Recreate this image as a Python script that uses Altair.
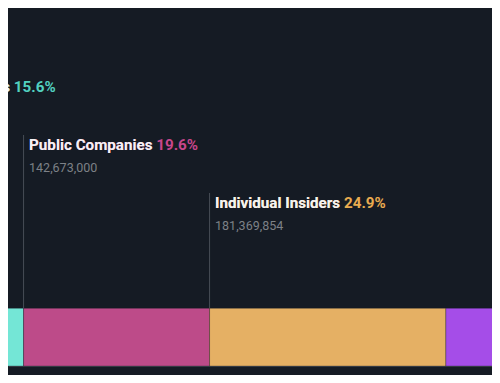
import altair as alt
import pandas as pd

# ---- data ----
owners = ["Private Companies", "Public Companies", "Individual Insiders", "Institutions"]
percent = [15.6, 19.6, 24.9, 39.9]
shares = [113560000, 142673000, 181369854, 290600000]
label_tier = [0, 1, 2, None]

# ---- styles ----
bar_colors = ["#74e6d6", "#bd4b89", "#e5b064", "#a54de8"]
pct_colors = ["#52d1c0", "#c8468c", "#e9ab50", "#a54de8"]
BG = "#151b24"

starts = [sum(percent[:i]) for i in range(len(percent))]
df = pd.DataFrame({
    "owner": owners,
    "pct": percent,
    "shares": shares,
    "tier": label_tier,
    "start": starts,
    "end": [s + p for s, p in zip(starts, percent)],
})

# visible window of the (cropped) ownership bar, in percent
x_scale = alt.Scale(domain=[13.96, 64.96], nice=False, zero=False)
y_scale = alt.Scale(domain=[0, 2], range=[69, 185], nice=False, zero=False)

x_axis = alt.Axis(labels=False, ticks=False, grid=False, title=None,
                  domainColor="#3a4049", domainWidth=1)

base = alt.Chart(df)

bars = base.mark_bar(stroke=BG, strokeWidth=0.6, strokeOpacity=0.5).encode(
    x=alt.X("start:Q", scale=x_scale, axis=x_axis),
    x2="end:Q",
    y=alt.value(300.3),
    y2=alt.value(358),
    color=alt.Color("owner:N", scale=alt.Scale(domain=owners, range=bar_colors), legend=None),
)

labelled = base.transform_filter("isValid(datum.tier)")

leaders = labelled.mark_rule(color="#474d56", strokeWidth=1).encode(
    x=alt.X("start:Q", scale=x_scale, axis=x_axis),
    y=alt.Y("tier:Q", scale=y_scale, axis=None),
    y2=alt.value(300),
)

full_label = labelled.transform_calculate(
    label="datum.owner + ' ' + format(datum.pct, '.1f') + '%'"
).mark_text(align="left", baseline="alphabetic", dx=5.5, dy=15,
            font="Roboto", fontSize=15.2, fontWeight="bold").encode(
    x=alt.X("start:Q", scale=x_scale, axis=x_axis),
    y=alt.Y("tier:Q", scale=y_scale, axis=None),
    text="label:N",
    color=alt.Color("owner:N", scale=alt.Scale(domain=owners, range=pct_colors), legend=None),
)

name_label = labelled.mark_text(align="left", baseline="alphabetic", dx=5.5, dy=15,
                                font="Roboto", fontSize=15.2, fontWeight="bold",
                                color="#f2f3f5").encode(
    x=alt.X("start:Q", scale=x_scale, axis=x_axis),
    y=alt.Y("tier:Q", scale=y_scale, axis=None),
    text="owner:N",
)

share_label = labelled.mark_text(align="left", baseline="alphabetic", dx=5.5, dy=37,
                                 font="Roboto", fontSize=12.5, color="#7d8187").encode(
    x=alt.X("start:Q", scale=x_scale, axis=x_axis),
    y=alt.Y("tier:Q", scale=y_scale, axis=None),
    text=alt.Text("shares:Q", format=","),
)

chart = alt.layer(bars, leaders, full_label, name_label, share_label).resolve_scale(
    color="independent"
).properties(
    width=484,
    height=358,
    padding={"left": 0, "top": 0, "right": 0, "bottom": 9},
    autosize=alt.AutoSizeParams(type="none"),
    background=BG,
).configure_view(stroke=None)

chart.save("out.html", embed_options={"renderer": "svg", "actions": False})
